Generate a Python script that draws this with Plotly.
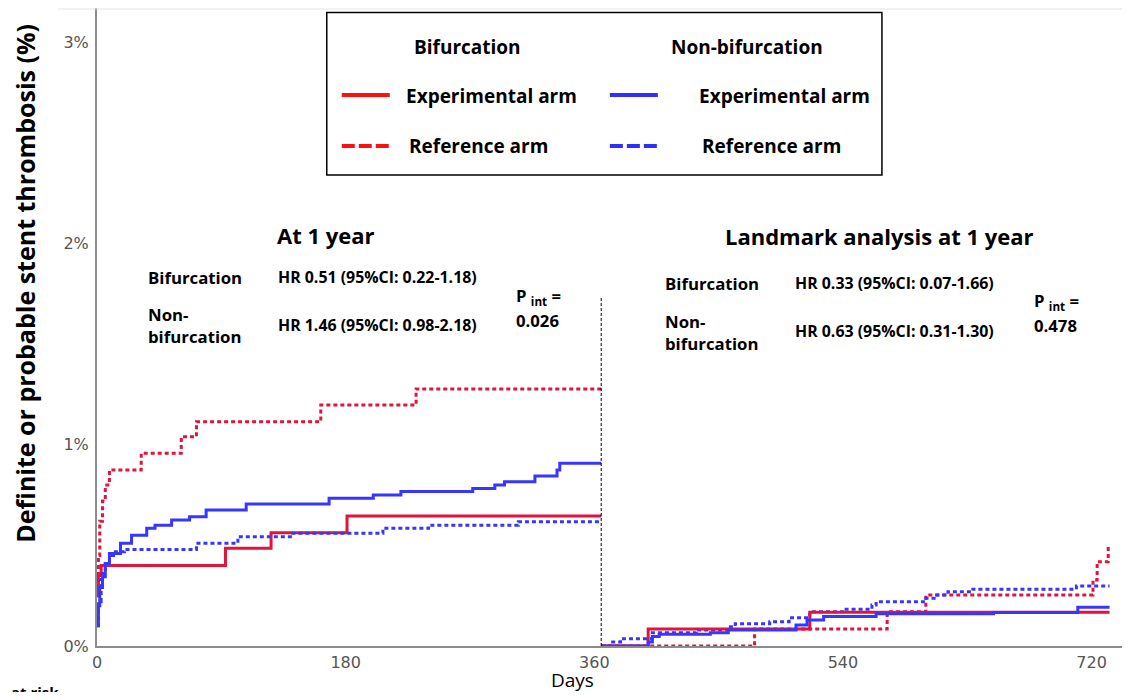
import plotly.graph_objects as go

# ---------------- data (days, cumulative % ) ----------------
bif_exp_days = [0, 1, 3, 93, 126, 181, 365]
bif_exp_pct = [0.25, 0.35, 0.40, 0.485, 0.563, 0.646, 0.646]

bif_ref_days = [0, 1, 2, 4, 6, 9, 32, 61, 72, 162, 231, 365]
bif_ref_pct = [0.25, 0.45, 0.62, 0.72, 0.80, 0.874, 0.957, 1.04, 1.114, 1.197, 1.277, 1.277]

nonbif_exp_days = [0, 1, 2, 4, 6, 9, 17, 25, 36, 42, 54, 67, 79, 108, 168, 200, 220, 272, 288, 295, 317, 333, 335, 365]
nonbif_exp_pct = [0.10, 0.20, 0.29, 0.36, 0.41, 0.46, 0.51, 0.55, 0.585, 0.60, 0.626, 0.642, 0.676, 0.705, 0.734,
                  0.75, 0.767, 0.783, 0.80, 0.816, 0.845, 0.874, 0.908, 0.908]

nonbif_ref_days = [0, 1, 3, 6, 9, 12, 20, 72, 102, 140, 207, 240, 305, 365]
nonbif_ref_pct = [0.10, 0.22, 0.33, 0.41, 0.45, 0.468, 0.48, 0.51, 0.543, 0.56, 0.585, 0.60, 0.617, 0.617]

lm_bif_exp_days = [365, 399, 516, 733]
lm_bif_exp_pct = [0, 0.0845, 0.168, 0.168]

lm_bif_ref_days = [365, 476, 572, 600, 721, 724, 732]
lm_bif_ref_pct = [0, 0.0845, 0.17, 0.253, 0.328, 0.419, 0.50]

lm_nonbif_exp_days = [365, 399, 402, 407, 444, 457, 506, 514, 526, 564, 649, 710, 733]
lm_nonbif_exp_pct = [0, 0.02, 0.047, 0.058, 0.066, 0.08, 0.104, 0.129, 0.146, 0.16, 0.166, 0.192, 0.192]

lm_nonbif_ref_days = [365, 372, 379, 402, 434, 457, 462, 487, 501, 516, 541, 561, 564, 600, 606, 616, 634, 709, 733]
lm_nonbif_ref_pct = [0.0, 0.02, 0.036, 0.066, 0.08, 0.096, 0.11, 0.12, 0.14, 0.17, 0.182, 0.204, 0.22, 0.237,
                     0.253, 0.27, 0.282, 0.298, 0.298]

landmark_day = 365
y_tickvals = [0, 1, 2, 3]
y_ticktext = ["0%", "1%", "2%", "3%"]
x_tickvals = [0, 180, 360, 540, 720]

RED = "#e0143c"
BLUE = "#3636ff"
FONT = "Open Sans"

# ---------------- geometry ----------------
# The page keeps the browser's default 8px body margin, so the figure is
# 16px smaller than the window and every target pixel is offset by 8.
OFF = 8
W, H = 1130 - 2 * OFF, 700 - 2 * OFF
PLOT_L, PLOT_R, PLOT_T, PLOT_B = 97.3, 1130 - OFF, 8, 646   # target-pixel edges of the plot area
PW, PH = PLOT_R - PLOT_L, PLOT_B - PLOT_T
PX_PER_DAY = 1.381
PX_PER_PCT = 201.3


def px(x):
    return (x - PLOT_L) / PW


def py(y):
    return (PLOT_B - y) / PH


fig = go.Figure()

dot = "4px,3px"
series = [
    (bif_exp_days, bif_exp_pct, RED, "solid"),
    (bif_ref_days, bif_ref_pct, RED, dot),
    (nonbif_ref_days, nonbif_ref_pct, BLUE, dot),
    (nonbif_exp_days, nonbif_exp_pct, BLUE, "solid"),
    (lm_bif_ref_days, lm_bif_ref_pct, RED, dot),
    (lm_nonbif_ref_days, lm_nonbif_ref_pct, BLUE, dot),
    (lm_bif_exp_days, lm_bif_exp_pct, RED, "solid"),
    (lm_nonbif_exp_days, lm_nonbif_exp_pct, BLUE, "solid"),
]
for xs, ys, c, d in series:
    fig.add_trace(go.Scatter(x=xs, y=ys, mode="lines",
                             line=dict(color=c, width=3, dash=d, shape="hv"),
                             showlegend=False, hoverinfo="skip", cliponaxis=False))

axis_line = dict(showline=True, linecolor="#8c8c8c", linewidth=2, showgrid=False, zeroline=False,
                 ticks="", tickfont=dict(family="DejaVu Sans", size=16, color="#555555"))

fig.update_layout(
    width=W, height=H, autosize=False,
    margin=dict(l=PLOT_L - OFF, r=(1130 - OFF) - PLOT_R, t=PLOT_T - OFF, b=(700 - OFF) - PLOT_B, pad=0),
    paper_bgcolor="white", plot_bgcolor="white",
    xaxis=dict(range=[0, PW / PX_PER_DAY], tickvals=x_tickvals,
               ticktext=[str(v) for v in x_tickvals], ticklabelstandoff=1, **axis_line),
    yaxis=dict(range=[0, PH / PX_PER_PCT], tickvals=y_tickvals, ticktext=y_ticktext,
               ticklabelstandoff=3, **axis_line),
)

shapes = []
# vertical landmark line
shapes.append(dict(type="line", xref="x", yref="paper", x0=landmark_day, x1=landmark_day, y0=0, y1=py(297),
                   line=dict(color="black", width=1, dash="3px,2px")))
# faint top border
shapes.append(dict(type="line", xref="paper", yref="paper", x0=px(58), x1=px(1130), y0=py(9), y1=py(9),
                   line=dict(color="#e4e4e4", width=1)))
# legend box
shapes.append(dict(type="rect", xref="paper", yref="paper", x0=px(327), x1=px(882), y0=py(12.5), y1=py(175),
                   line=dict(color="black", width=1.5), fillcolor="white"))
LRED, LBLUE = "#ff1010", "#2e2eff"
for (x0, x1, yy, c, d) in [(342, 390, 95, LRED, "solid"), (342, 390, 146, LRED, "13px,4px"),
                           (610, 658, 95, LBLUE, "solid"), (610, 658, 146, LBLUE, "13px,4px")]:
    shapes.append(dict(type="line", xref="paper", yref="paper", x0=px(x0), x1=px(x1), y0=py(yy), y1=py(yy),
                       line=dict(color=c, width=4, dash=d)))
fig.update_layout(shapes=shapes)

ann = []


def text(x, y, s, size, xanchor="left", bold=True, color="black", angle=0, family=FONT):
    ann.append(dict(xref="paper", yref="paper", x=px(x), y=py(y), text=(f"<b>{s}</b>" if bold else s),
                    showarrow=False, xanchor=xanchor, yanchor="middle", textangle=angle,
                    font=dict(family=family, size=size, color=color), align="left"))


# legend text
text(468, 47, "Bifurcation", 19, "center")
text(747, 47, "Non-bifurcation", 19, "center")
text(404, 96, "Experimental arm", 19)
text(407, 146, "Reference arm", 19)
text(697, 96, "Experimental arm", 19)
text(700, 146, "Reference arm", 19)

# left panel
text(326, 235, "At 1 year", 22, "center")
text(146, 277, "Bifurcation", 16.8)
text(276, 277, "HR 0.51 (95%CI: 0.22-1.18)", 15.9)
text(146, 325, "Non-<br>bifurcation", 16.8)
text(276, 325, "HR 1.46 (95%CI: 0.98-2.18)", 15.9)
text(514, 296, "P <sub>int</sub> =", 16.7)
text(514, 321, "0.026", 16.7)

# right panel
text(880, 236, "Landmark analysis at 1 year", 22, "center")
text(663, 283, "Bifurcation", 16.8)
text(793, 283, "HR 0.33 (95%CI: 0.07-1.66)", 15.9)
text(663, 332, "Non-<br>bifurcation", 16.8)
text(793, 331, "HR 0.63 (95%CI: 0.31-1.30)", 15.9)
text(1032, 301, "P <sub>int</sub> =", 16.7)
text(1032, 325, "0.478", 16.7)

# axis titles
text(25, 283, "Definite or probable stent thrombosis (%)", 25, "center", angle=-90)
text(573, 680, "Days", 19, "center", bold=False)
text(9, 692, "at risk", 15)

fig.update_layout(annotations=ann)
fig.write_html("out.html", config={"displayModeBar": False, "responsive": False})
